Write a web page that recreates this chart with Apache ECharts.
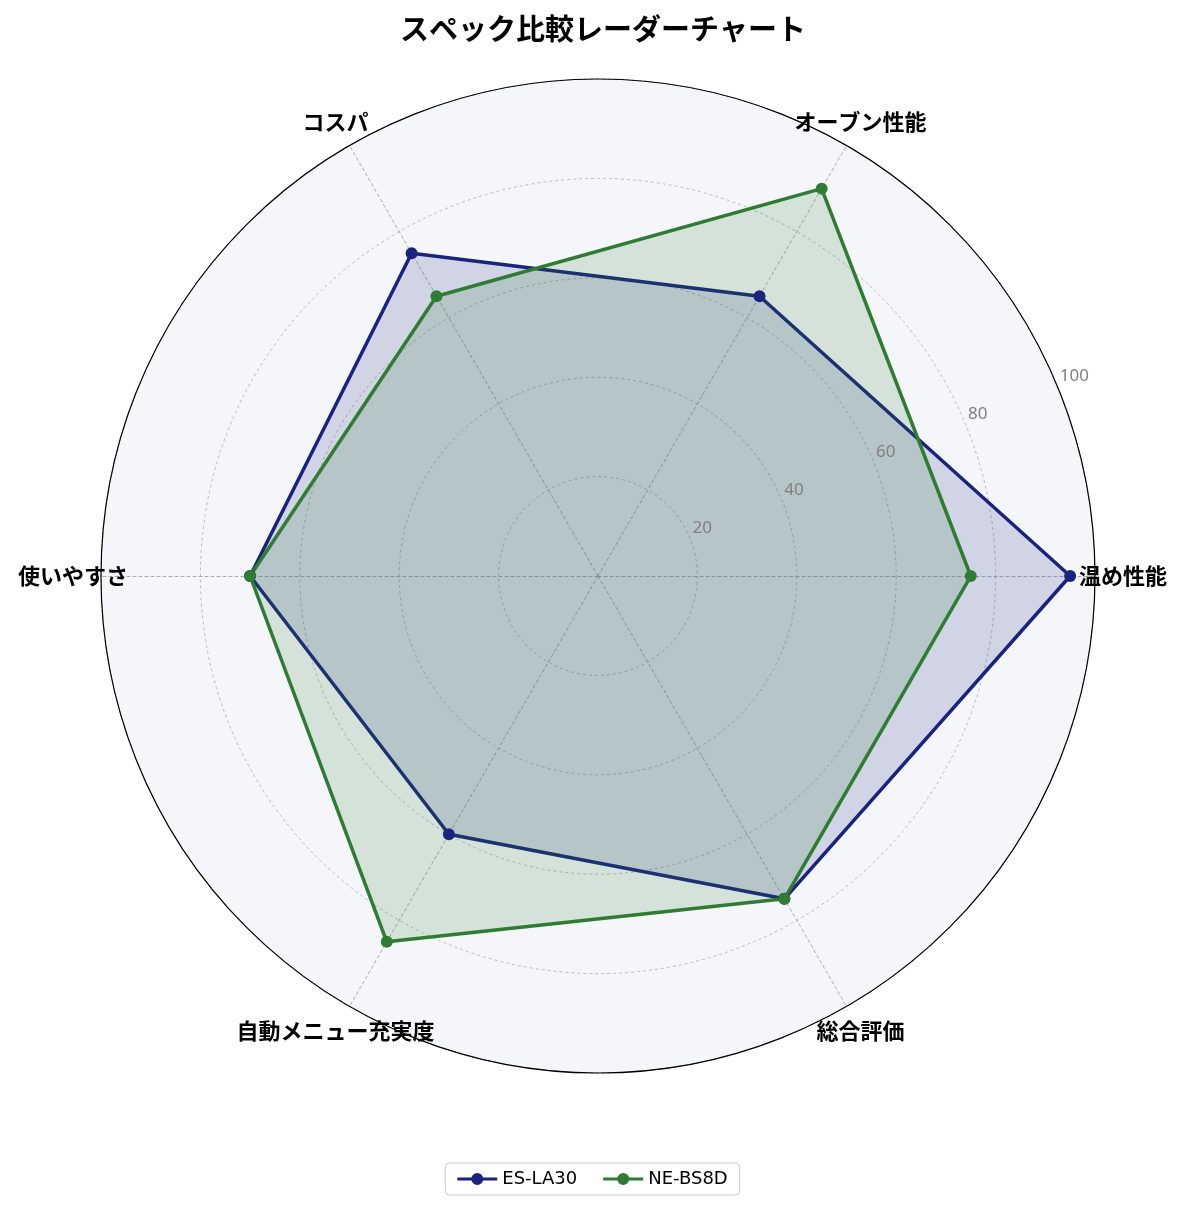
<!DOCTYPE html>
<html>
<head>
<meta charset="utf-8">
<script src="https://cdn.jsdelivr.net/npm/echarts@6/dist/echarts.min.js"></script>
<style>
  html, body { margin: 0; padding: 0; background: #fff; }
  #chart { width: 1185px; height: 1211px; }
</style>
</head>
<body>
<div id="chart"></div>
<script>
const categories = ['温め性能', 'オーブン性能', 'コスパ', '使いやすさ', '自動メニュー充実度', '総合評価'];
const seriesNames = ['ES-LA30', 'NE-BS8D'];
const esValues = [95, 65, 75, 70, 60, 75];
const neValues = [75, 90, 65, 70, 85, 75];
const tickValues = [20, 40, 60, 80, 100];

const colors = ['#1a237e', '#2e7d32'];
const CX = 598, CY = 576, R = 497;
const FONT = '"Noto Sans CJK JP", "Noto Sans", sans-serif';
// line with a dot in the middle, like a matplotlib legend handle
const LEGEND_ICON = 'path://M0,4.5L40,4.5L40,7.5L0,7.5Z M14,6A6,6 0 1 1 26,6A6,6 0 1 1 14,6Z';

const chart = echarts.init(document.getElementById('chart'));

// axis names centred just outside the ring
const nameGraphics = categories.map((name, i) => {
  const a = i * 2 * Math.PI / categories.length;
  const r = R + 28;
  return {
    type: 'text',
    x: CX + r * Math.cos(a),
    y: CY - r * Math.sin(a),
    style: {
      text: name,
      font: 'bold 22px ' + FONT,
      fill: '#000',
      align: 'center',
      verticalAlign: 'middle'
    },
    z: 100
  };
});

const option = {
  backgroundColor: '#ffffff',
  color: colors,
  title: {
    text: 'スペック比較レーダーチャート',
    left: CX,
    textAlign: 'center',
    top: 9,
    textStyle: { fontFamily: FONT, fontWeight: 'bold', fontSize: 29, color: '#000' }
  },
  legend: {
    data: seriesNames.map(name => ({ name, icon: LEGEND_ICON })),
    bottom: 16,
    left: 'center',
    itemWidth: 40,
    itemHeight: 12,
    itemGap: 26,
    padding: [7, 12],
    borderColor: '#cccccc',
    borderWidth: 1,
    borderRadius: 4,
    textStyle: { fontFamily: '"DejaVu Sans", sans-serif', fontSize: 18, color: '#000' }
  },
  radar: {
    center: [CX, CY],
    radius: R,
    startAngle: 0,
    shape: 'circle',
    splitNumber: 5,
    indicator: categories.map(name => ({ name, min: 0, max: 100 })),
    axisName: { show: false },
    axisLine: { lineStyle: { color: '#999', type: [3, 3], width: 0.8 } },
    splitLine: { lineStyle: { color: '#aaa', type: [3, 3], width: 0.8 } },
    splitArea: { show: true, areaStyle: { color: ['#f5f6fa'] } }
  },
  polar: { center: [CX, CY], radius: R },
  angleAxis: {
    type: 'value',
    startAngle: 22.5,
    min: 0,
    max: 360,
    axisLine: { show: true, lineStyle: { color: '#000', width: 1.2 } },
    axisTick: { show: false },
    axisLabel: { show: false },
    splitLine: { show: false }
  },
  radiusAxis: {
    type: 'value',
    min: 0,
    max: 100,
    interval: 20,
    axisLine: { show: false },
    axisTick: { show: false },
    splitLine: { show: false },
    axisLabel: {
      margin: 1,
      align: 'left',
      verticalAlign: 'bottom',
      padding: [0, 0, 0, 3],
      color: '#808080',
      fontFamily: '"Noto Sans", sans-serif',
      fontSize: 17,
      formatter: v => tickValues.includes(v) ? String(v) : ''
    },
    z: 50
  },
  series: [{
    type: 'radar',
    symbol: 'circle',
    symbolSize: 12,
    z: 10,
    data: [esValues, neValues].map((vals, i) => ({
      name: seriesNames[i],
      value: vals,
      lineStyle: { color: colors[i], width: 3.5 },
      itemStyle: { color: colors[i] },
      areaStyle: { color: colors[i], opacity: 0.16 }
    }))
  }],
  graphic: nameGraphics
};

chart.setOption(option);
</script>
</body>
</html>
